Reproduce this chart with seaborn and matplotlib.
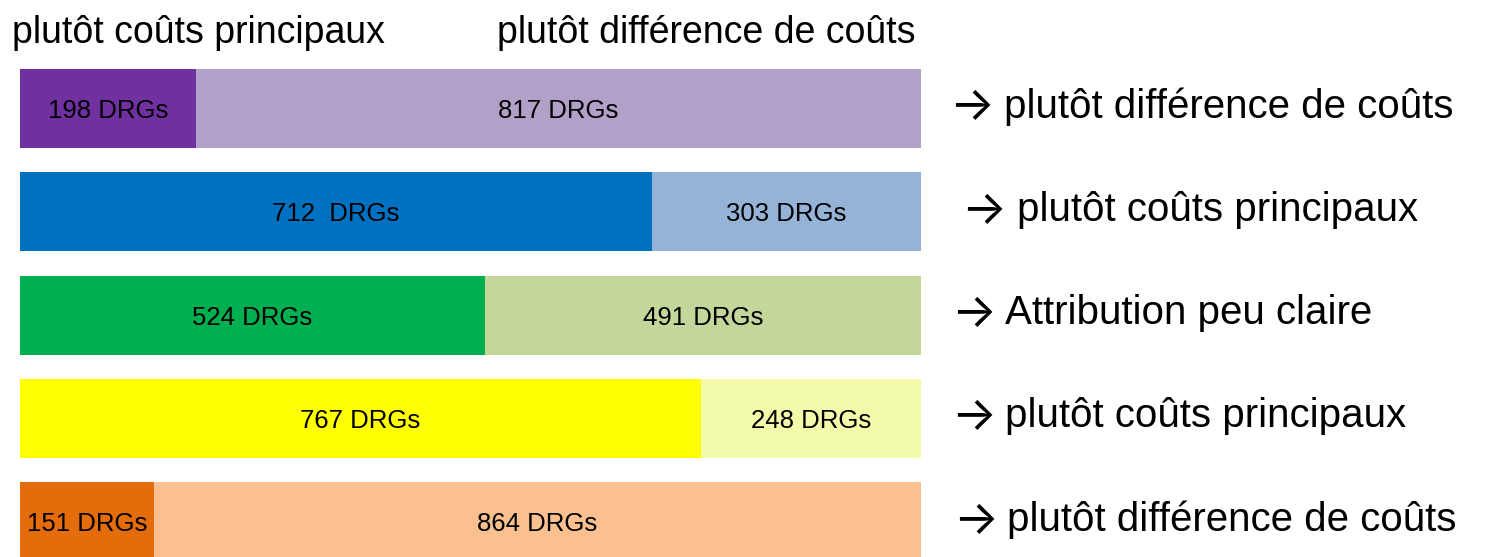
import numpy as np
import pandas as pd
from matplotlib import pyplot as plt
import seaborn as sns

# data
rows = ['r1', 'r2', 'r3', 'r4', 'r5']
first = [198, 712, 524, 767, 151]
second = [817, 303, 491, 248, 864]
first_labels = ['198 DRGs', '712  DRGs', '524 DRGs', '767 DRGs', '151 DRGs']
second_labels = ['817 DRGs', '303 DRGs', '491 DRGs', '248 DRGs', '864 DRGs']
conclusions = ['plutôt différence de coûts', 'plutôt coûts principaux',
               'Attribution peu claire', 'plutôt coûts principaux',
               'plutôt différence de coûts']
headers = ['plutôt coûts principaux', 'plutôt différence de coûts']
dark = ['#7030A0', '#0070C0', '#00B050', '#FFFF00', '#E46C0A']
light = ['#B1A0C7', '#95B3D7', '#C4D79B', '#F3FBAB', '#FAC090']

df = pd.DataFrame({'row': rows, 'first': first, 'second': second})
df['total'] = df['first'] + df['second']

sns.set_style('white')
plt.rcParams['font.family'] = ['Liberation Sans', 'DejaVu Sans']
plt.rcParams['text.color'] = 'black'

W, H = 1485, 557
fig = plt.figure(figsize=(W / 100, H / 100), dpi=100)
ax = fig.add_axes([20 / W, 0, 901 / W, 1])

# full bar in light colour, first part in dark colour on top
sns.barplot(data=df, x='total', y='row', hue='row', palette=light, orient='h',
            width=0.765, legend=False, saturation=1, linewidth=0, ax=ax)
sns.barplot(data=df, x='first', y='row', hue='row', palette=dark, orient='h',
            width=0.765, legend=False, saturation=1, linewidth=0, ax=ax)

pitch = 103.3  # px per category
top_c = 108.5  # px centre of first bar
ax.set_xlim(0, 1015)
ax.set_ylim((H - top_c) / pitch, -top_c / pitch)
ax.set_axis_off()

def px2x(px):
    return (px - 20) / 901 * 1015

for i in range(len(rows)):
    ax.text(first[i] / 2, i + 0.092, first_labels[i], ha='center', va='baseline', fontsize=18.5)
    ax.text(first[i] + second[i] / 2, i + 0.092, second_labels[i], ha='center', va='baseline', fontsize=18.5)

arrow_x = [953, 965, 955, 955, 957]
text_x = [1004, 1017, 1005, 1005, 1007]
for i, txt in enumerate(conclusions):
    ax.text(px2x(arrow_x[i]) - 4, i + 12 / pitch, '\u2192', ha='left', va='baseline',
            fontsize=34, family=['Inter', 'DejaVu Sans'], clip_on=False)
    ax.text(px2x(text_x[i]), i + 9 / pitch, txt, ha='left', va='baseline',
            fontsize=29, clip_on=False)

ax.text(px2x(12), (43 - top_c) / pitch, headers[0], ha='left', va='baseline', fontsize=27, clip_on=False)
ax.text(px2x(497), (43 - top_c) / pitch, headers[1], ha='left', va='baseline', fontsize=27, clip_on=False)

fig.savefig('out.png', dpi=100)
